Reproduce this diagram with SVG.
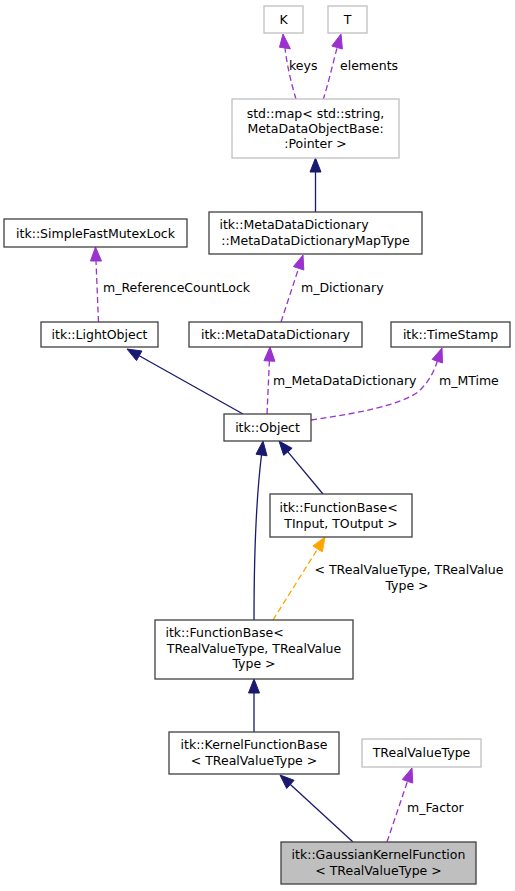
<svg xmlns="http://www.w3.org/2000/svg" width="515" height="891" viewBox="0 0 515 891">
<style>
text{font-family:"DejaVu Sans","Liberation Sans",sans-serif;font-size:12.5px;fill:#000}
.n rect{fill:#fff;stroke:#404040;stroke-width:1.3}
.n.l rect{stroke:#bfbfbf}
.n.g rect{fill:#bfbfbf}
.m{text-anchor:middle}
.s{text-anchor:start}
.e path{fill:none;stroke-width:1.3}
.inh path{stroke:#191970}.inh polygon{fill:#191970;stroke:#191970}
.use path{stroke:#9a32cd;stroke-dasharray:6,3.5}.use polygon{fill:#9a32cd;stroke:#9a32cd}
.tpl path{stroke:#ffa500;stroke-dasharray:6,3.5}.tpl polygon{fill:#ffa500;stroke:#ffa500}
</style>
<rect width="515" height="891" fill="#fff"/>
<g id="connectors">
<g class="e use"><path d="M296,99 C292,86 287,66 285,48"/><polygon points="283,34 279.5,47.2 290.4,48.8"/><text class="s" x="289" y="70">keys</text></g>
<g class="e use"><path d="M323,100 C328,85 333,63 337,48"/><polygon points="341,34 331.8,46 342.4,49"/><text class="s" x="340" y="70">elements</text></g>
<g class="e inh"><path d="M315.5,212 L315.5,172"/><polygon points="315.5,158 310,172 321,172"/></g>
<g class="e use"><path d="M98.5,322 L96,261"/><polygon points="95.5,247 90.5,261 101.5,261"/><text class="s" x="103" y="292">m_ReferenceCountLock</text></g>
<g class="e use"><path d="M281,322 L298.6,268.3"/><polygon points="303,255 293.4,266.6 303.8,270"/><text class="s" x="301" y="292">m_Dictionary</text></g>
<g class="e inh"><path d="M243,414 L139.2,355.8"/><polygon points="127,349 141.9,351 136.5,360.6"/></g>
<g class="e use"><path d="M267,414 L269.4,361"/><polygon points="270,347 263.9,360.7 274.9,361.3"/><text class="s" x="273" y="385">m_MetaDataDictionary</text></g>
<g class="e use"><path d="M311,420 C360,413 400,405 418,392 C428,383 434,372 437.3,361.2"/><polygon points="442,348 432.1,359.4 442.5,363"/><text class="s" x="439" y="385">m_MTime</text></g>
<g class="e inh"><path d="M323,494 L287.9,451.8"/><polygon points="279,441 292.1,448.3 283.7,455.3"/></g>
<g class="e inh"><path d="M254,620 C254,560 256,500 261.5,455"/><polygon points="263,441 256,454.2 267,455.8"/></g>
<g class="e tpl"><path d="M273,620 L317.6,548.9"/><polygon points="325,537 312.9,546 322.3,551.8"/><text class="m" x="409" y="574">&lt; TRealValueType, TRealValue</text><text class="m" x="407" y="590">Type &gt;</text></g>
<g class="e inh"><path d="M254,732 L254,693"/><polygon points="254,679 248.5,693 259.5,693"/></g>
<g class="e inh"><path d="M353,842 L290.4,784.4"/><polygon points="280,775 294.1,780.3 286.7,788.5"/></g>
<g class="e use"><path d="M387,842 L407.5,781.3"/><polygon points="412,768 402.3,779.5 412.7,783.1"/><text class="s" x="407" y="812">m_Factor</text></g>
</g>
<g id="K" class="n l"><rect x="264" y="6" width="39" height="27"/><text class="m" x="283.5" y="24">K</text></g>
<g id="T" class="n l"><rect x="328" y="6" width="39" height="27"/><text class="m" x="347.5" y="24">T</text></g>
<g id="stdmap" class="n l"><rect x="232" y="99" width="167" height="59"/><text class="m" x="315.5" y="118">std::map&lt; std::string,</text><text class="m" x="315.5" y="133"> MetaDataObjectBase:</text><text class="m" x="315.5" y="148">:Pointer &gt;</text></g>
<g id="MapType" class="n"><rect x="209" y="212" width="213" height="42"/><text class="s" x="219.5" y="229">itk::MetaDataDictionary</text><text class="m" x="315.5" y="245">::MetaDataDictionaryMapType</text></g>
<g id="SimpleFastMutexLock" class="n"><rect x="4" y="219" width="183" height="28"/><text class="m" x="95.5" y="237.5">itk::SimpleFastMutexLock</text></g>
<g id="LightObject" class="n"><rect x="41" y="322" width="117" height="25"/><text class="m" x="99.5" y="339">itk::LightObject</text></g>
<g id="MetaDataDictionary" class="n"><rect x="189" y="322" width="173" height="25"/><text class="m" x="275.5" y="339">itk::MetaDataDictionary</text></g>
<g id="TimeStamp" class="n"><rect x="391" y="322" width="119" height="25"/><text class="m" x="450.5" y="339">itk::TimeStamp</text></g>
<g id="Object" class="n"><rect x="224" y="414" width="87" height="27"/><text class="m" x="267.5" y="432">itk::Object</text></g>
<g id="FunctionBaseTIO" class="n"><rect x="270" y="494" width="142" height="43"/><text class="s" x="279.5" y="512">itk::FunctionBase&lt;</text><text class="m" x="341" y="528"> TInput, TOutput &gt;</text></g>
<g id="FunctionBaseTReal" class="n"><rect x="155" y="620" width="198" height="59"/><text class="s" x="165.5" y="637">itk::FunctionBase&lt;</text><text class="m" x="254" y="653"> TRealValueType, TRealValue</text><text class="m" x="254" y="668">Type &gt;</text></g>
<g id="KernelFunctionBase" class="n"><rect x="169" y="732" width="170" height="42"/><text class="m" x="254" y="749">itk::KernelFunctionBase</text><text class="m" x="254" y="765">&lt; TRealValueType &gt;</text></g>
<g id="TRealValueType" class="n l"><rect x="362" y="739" width="119" height="28"/><text class="m" x="421.5" y="757">TRealValueType</text></g>
<g id="GaussianKernelFunction" class="n g"><rect x="281" y="842" width="195" height="42"/><text class="m" x="378.5" y="859">itk::GaussianKernelFunction</text><text class="m" x="378.5" y="875">&lt; TRealValueType &gt;</text></g>
</svg>
